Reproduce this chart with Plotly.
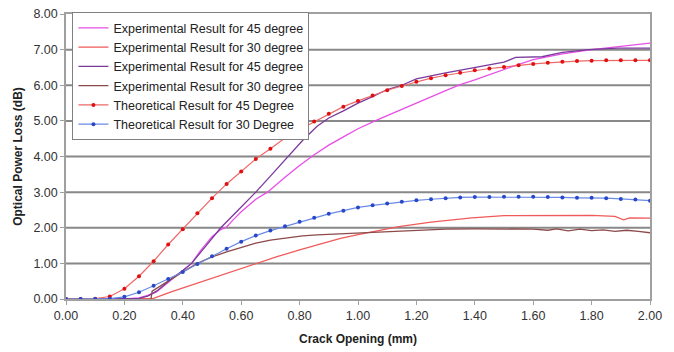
import plotly.graph_objects as go

# ---------------- data ----------------
theo_x = [round(i * 0.05, 2) for i in range(41)]
theo45_y = [0.00, 0.00, 0.01, 0.07, 0.29, 0.64, 1.06, 1.53, 1.96, 2.41, 2.83, 3.23, 3.58, 3.93,
            4.22, 4.52, 4.76, 4.98, 5.20, 5.40, 5.56, 5.71, 5.86, 5.98, 6.10, 6.20, 6.28, 6.35,
            6.42, 6.47, 6.51, 6.56, 6.60, 6.63, 6.66, 6.68, 6.69, 6.70, 6.70, 6.70, 6.70]
theo30_y = [0.00, 0.00, 0.00, 0.01, 0.06, 0.19, 0.37, 0.56, 0.76, 0.98, 1.20, 1.41, 1.61, 1.78,
            1.92, 2.04, 2.17, 2.28, 2.39, 2.48, 2.57, 2.63, 2.68, 2.73, 2.77, 2.80, 2.83, 2.85,
            2.86, 2.86, 2.87, 2.87, 2.87, 2.86, 2.85, 2.84, 2.84, 2.83, 2.81, 2.79, 2.76]

exp45a_x = [0.00, 0.10, 0.20, 0.25, 0.28, 0.31, 0.34, 0.37, 0.40, 0.43, 0.46, 0.50, 0.53, 0.55,
            0.57, 0.60, 0.65, 0.69, 0.75, 0.80, 0.85, 0.90, 0.95, 1.00, 1.07, 1.10, 1.20, 1.30,
            1.35, 1.40, 1.50, 1.54, 1.60, 1.70, 1.80, 1.90, 2.00]
exp45a_y = [0.00, 0.00, 0.00, 0.03, 0.10, 0.20, 0.40, 0.60, 0.78, 1.00, 1.35, 1.75, 1.95, 2.02,
            2.20, 2.45, 2.80, 3.00, 3.42, 3.75, 4.05, 4.32, 4.55, 4.78, 5.04, 5.15, 5.50, 5.85,
            6.02, 6.15, 6.45, 6.56, 6.72, 6.88, 7.00, 7.10, 7.18]

exp30a_x = [0.00, 0.29, 0.30, 0.36, 0.45, 0.55, 0.65, 0.72, 0.80, 0.87, 0.94, 1.00, 1.07, 1.14,
            1.25, 1.39, 1.50, 1.60, 1.70, 1.80, 1.88, 1.91, 1.93, 2.00]
exp30a_y = [0.00, 0.00, 0.02, 0.20, 0.45, 0.72, 1.00, 1.18, 1.38, 1.55, 1.70, 1.81, 1.92, 2.03,
            2.16, 2.28, 2.34, 2.35, 2.35, 2.35, 2.32, 2.22, 2.28, 2.27]

exp45b_x = [0.00, 0.10, 0.20, 0.25, 0.28, 0.31, 0.34, 0.36, 0.40, 0.43, 0.48, 0.53, 0.59, 0.65,
            0.70, 0.76, 0.81, 0.86, 0.90, 0.95, 1.00, 1.05, 1.10, 1.15, 1.20, 1.30, 1.40, 1.45,
            1.50, 1.54, 1.63, 1.70, 1.79, 1.89, 2.00]
exp45b_y = [0.00, 0.00, 0.00, 0.02, 0.08, 0.22, 0.42, 0.56, 0.80, 1.00, 1.50, 2.00, 2.50, 3.00,
            3.45, 4.00, 4.45, 4.85, 5.08, 5.28, 5.50, 5.68, 5.88, 6.00, 6.18, 6.35, 6.50, 6.58,
            6.65, 6.78, 6.80, 6.92, 7.00, 7.04, 7.04]

exp30b_x = [0.00, 0.10, 0.20, 0.29, 0.295, 0.32, 0.36, 0.40, 0.45, 0.50, 0.55, 0.60, 0.65, 0.70,
            0.75, 0.81, 0.86, 0.94, 1.00, 1.10, 1.20, 1.30, 1.40, 1.50, 1.60, 1.65, 1.68, 1.72,
            1.76, 1.80, 1.84, 1.88, 1.92, 1.96, 2.00]
exp30b_y = [0.00, 0.00, -0.05, -0.05, 0.22, 0.35, 0.55, 0.76, 1.00, 1.18, 1.32, 1.45, 1.57, 1.65,
            1.71, 1.77, 1.80, 1.83, 1.86, 1.90, 1.94, 1.96, 1.97, 1.97, 1.96, 1.93, 1.97, 1.91,
            1.96, 1.92, 1.94, 1.90, 1.93, 1.90, 1.86]

x_ticks = [round(i * 0.2, 2) for i in range(11)]
y_ticks = list(range(9))
grid_lines = [1, 2, 3, 4, 5, 6, 7]

# ---------------- figure ----------------
FONT = "Arial, Liberation Sans, sans-serif"
fig = go.Figure()

fig.add_trace(go.Scatter(x=exp45a_x, y=exp45a_y, mode="lines",
                         name="Experimental Result for 45 degree",
                         line=dict(color="#e84ee8", width=1.3)))
fig.add_trace(go.Scatter(x=exp30a_x, y=exp30a_y, mode="lines",
                         name="Experimental Result for 30 degree",
                         line=dict(color="#f05a5a", width=1.3)))
fig.add_trace(go.Scatter(x=exp45b_x, y=exp45b_y, mode="lines",
                         name="Experimental Result for 45 degree",
                         line=dict(color="#7a3a9c", width=1.3)))
fig.add_trace(go.Scatter(x=exp30b_x, y=exp30b_y, mode="lines",
                         name="Experimental Result for 30 degree",
                         line=dict(color="#8c4a4a", width=1.3)))
fig.add_trace(go.Scatter(x=theo_x, y=theo45_y, mode="lines+markers",
                         name="Theoretical Result for 45 Degree",
                         line=dict(color="#f06868", width=1.2),
                         marker=dict(color="#e01010", size=4)))
fig.add_trace(go.Scatter(x=theo_x, y=theo30_y, mode="lines+markers",
                         name="Theoretical Result for 30 Degree",
                         line=dict(color="#6a8ae6", width=1.2),
                         marker=dict(color="#2848c8", size=4)))

for g in grid_lines:
    fig.add_shape(type="line", xref="paper", x0=0, x1=1, yref="y", y0=g, y1=g,
                  line=dict(color="#888888", width=2), layer="below")

fig.update_layout(
    width=674, height=352,
    margin=dict(l=66, r=24, t=14, b=53, autoexpand=False),
    paper_bgcolor="white", plot_bgcolor="white",
    font=dict(family=FONT, size=12.5, color="#333333"),
    showlegend=True,
    legend=dict(x=0.011, y=1.006, xanchor="left", yanchor="top",
                bgcolor="white", bordercolor="#808080", borderwidth=1,
                font=dict(size=12.5, color="#222222"), tracegroupgap=0),
    xaxis=dict(range=[0, 2], tickvals=x_ticks, ticktext=[f"{v:.2f}" for v in x_ticks],
               automargin=False,
               showgrid=False, zeroline=False, showline=True, linecolor="#a0a0a0",
               linewidth=1.5, mirror=True, ticks="outside", ticklen=4, tickcolor="#a0a0a0",
               title=dict(text="<b>Crack Opening (mm)</b>", standoff=13,
                          font=dict(size=12, color="#222222"))),
    yaxis=dict(range=[0, 8], tickvals=y_ticks, ticktext=[f"{v:.2f}" for v in y_ticks],
               automargin=False,
               showgrid=False, zeroline=False, showline=True, linecolor="#a0a0a0",
               linewidth=1.5, mirror=True, ticks="outside", ticklen=4, tickcolor="#a0a0a0",
               title=dict(text="<b>Optical Power Loss (dB)</b>", standoff=8,
                          font=dict(size=12, color="#222222"))),
)

fig.write_html("out.html", config={"displayModeBar": False},
               post_script="document.body.style.margin='0';document.body.style.padding='0';")
